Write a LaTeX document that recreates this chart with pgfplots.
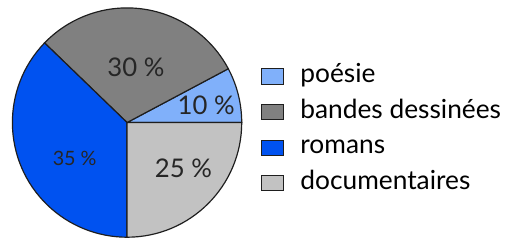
\documentclass[border=0pt]{standalone}
\usepackage{pgfplots}
\pgfplotsset{compat=1.18}
\usepackage{fontspec}
\setmainfont{Lato}
\definecolor{poesie}{RGB}{128,176,250}
\definecolor{bd}{RGB}{128,128,128}
\definecolor{romans}{RGB}{0,82,240}
\definecolor{doc}{RGB}{194,194,194}
\definecolor{edge}{RGB}{30,30,30}
% slice boundaries (degrees) as drawn in the chart, percentages as labelled
% poesie 10 % : 0 -> 28 ; bandes dessinees 30 % : 28 -> 136
% romans 35 % : 136 -> 270 ; documentaires 25 % : 270 -> 360
\begin{document}
\begin{tikzpicture}
\begin{axis}[
  x=1pt, y=1pt, xmin=0, xmax=255, ymin=0, ymax=120.5,
  hide axis, clip=false,
  legend image code/.code={\draw[#1] (0pt,-3.8pt) rectangle (11pt,3.8pt); \path (18pt,0pt);},
  legend style={draw=none, fill=none, at={(axis cs:127.5,91.5)}, anchor=north west,
    font=\fontsize{13.3}{14}\selectfont, row sep=3pt,
    nodes={inner sep=1.5pt, text height=9pt, text depth=3pt}},
  legend cell align=left,
]
\path (rel axis cs:0,0) rectangle (rel axis cs:1,1);
\addlegendimage{fill=poesie, draw=edge, line width=0.5pt}
\addlegendentry{poésie}
\addlegendimage{fill=bd, draw=edge, line width=0.5pt}
\addlegendentry{bandes dessinées}
\addlegendimage{fill=romans, draw=edge, line width=0.5pt}
\addlegendentry{romans}
\addlegendimage{fill=doc, draw=edge, line width=0.5pt}
\addlegendentry{documentaires}
% pie centre (63,58.5), radius 58
\filldraw[fill=poesie, draw=edge, line width=0.6pt] (axis cs:63,58.5) -- ++(0:58pt) arc[start angle=0, end angle=28, radius=58pt] -- cycle;
\filldraw[fill=bd, draw=edge, line width=0.6pt] (axis cs:63,58.5) -- ++(28:58pt) arc[start angle=28, end angle=136, radius=58pt] -- cycle;
\filldraw[fill=romans, draw=edge, line width=0.6pt] (axis cs:63,58.5) -- ++(136:58pt) arc[start angle=136, end angle=270, radius=58pt] -- cycle;
\filldraw[fill=doc, draw=edge, line width=0.6pt] (axis cs:63,58.5) -- ++(270:58pt) arc[start angle=270, end angle=360, radius=58pt] -- cycle;
\node[font=\fontsize{13}{15}\selectfont, text=black!85] at (axis cs:67.5,86.5) {30 \%};
\node[font=\fontsize{13}{15}\selectfont, text=black!85] at (axis cs:103,67) {10 \%};
\node[font=\fontsize{10}{12}\selectfont, text=black!85] at (axis cs:36.5,40.5) {35 \%};
\node[font=\fontsize{13}{15}\selectfont, text=black!85] at (axis cs:91.5,35.5) {25 \%};
\end{axis}
\end{tikzpicture}
\end{document}
